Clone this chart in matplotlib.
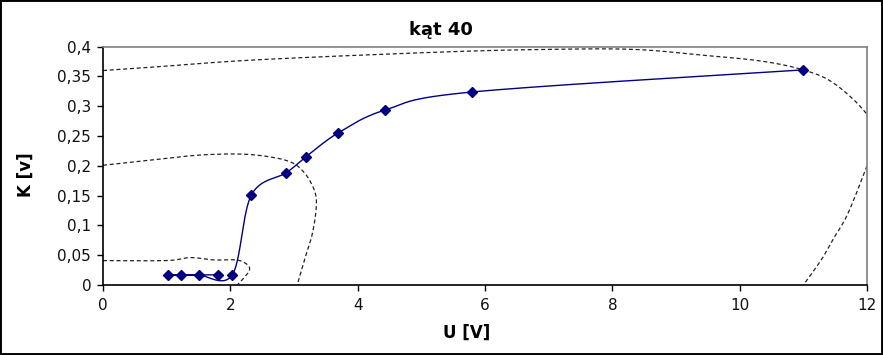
import numpy as np
import matplotlib
matplotlib.use("Agg")
import matplotlib.pyplot as plt
from matplotlib.ticker import FuncFormatter
from matplotlib.patches import Rectangle

plt.rcParams['font.family'] = ['DejaVu Sans']

# measured series (in drawing order)
u_vals = [1.81, 1.02, 1.23, 1.50, 2.03, 2.33, 2.88, 3.19, 3.69, 4.43, 5.80, 10.99]
k_vals = [0.017, 0.017, 0.017, 0.017, 0.017, 0.151, 0.1885, 0.2154, 0.255, 0.2937, 0.324, 0.361]

# dashed contour lines
c1_u = [0.0, 1.0, 1.37, 1.75, 2.10, 2.27, 2.30, 2.23, 2.11]
c1_k = [0.041, 0.041, 0.046, 0.042, 0.042, 0.034, 0.025, 0.014, 0.0]

c2_u = [0.0, 1.0, 1.63, 2.31, 2.89, 3.15, 3.32, 3.35, 3.29, 3.18, 3.05]
c2_k = [0.201, 0.2127, 0.2188, 0.219, 0.2087, 0.190, 0.159, 0.131, 0.087, 0.0476, 0.0]

c3_u = [0.0, 0.69, 2.42, 5.30, 7.00, 8.33, 9.39, 10.33, 11.0, 11.48, 11.98, 12.15, 12.0, 11.70, 11.48, 11.28, 11.0]
c3_k = [0.360, 0.365, 0.378, 0.391, 0.3955, 0.3955, 0.386, 0.376, 0.361, 0.3386, 0.289, 0.245, 0.200, 0.120, 0.079, 0.042, 0.0]

x_ticks = [0, 2, 4, 6, 8, 10, 12]
y_ticks = [0, 0.05, 0.1, 0.15, 0.2, 0.25, 0.3, 0.35, 0.4]

title = "kąt 40"
x_label = "U [V]"
y_label = "K [v]"


def smooth(xs, ys, n=30):
    """Excel-like Bezier smoothing (Catmull-Rom control points)."""
    p = np.column_stack([xs, ys]).astype(float)
    m = len(p)
    out = [p[0]]
    for i in range(m - 1):
        p0 = p[i - 1] if i > 0 else p[i]
        p1 = p[i]
        p2 = p[i + 1]
        p3 = p[i + 2] if i + 2 < m else p[i + 1]
        c1 = p1 + (p2 - p0) / 6.0
        c2 = p2 - (p3 - p1) / 6.0
        t = np.linspace(0, 1, n)[1:, None]
        b = ((1 - t) ** 3) * p1 + 3 * ((1 - t) ** 2) * t * c1 + 3 * (1 - t) * t ** 2 * c2 + t ** 3 * p2
        out.extend(b)
    out = np.array(out)
    return out[:, 0], out[:, 1]


W, H = 883, 355
fig = plt.figure(figsize=(W / 100, H / 100), dpi=100)
ax = fig.add_axes([103 / W, (H - 285) / H, 764 / W, 238.3 / H])

dash = (0, (3.2, 2.2))
for cu, ck in [(c1_u, c1_k), (c2_u, c2_k), (c3_u, c3_k)]:
    sx, sy = smooth(cu, ck)
    ax.plot(sx, sy, color='#222222', lw=0.9, linestyle=dash)

sx, sy = smooth(u_vals, k_vals)
ax.plot(sx, sy, color='#000080', lw=1.0)
ax.plot(u_vals, k_vals, linestyle='none', marker='D', markersize=5,
        color='#000080', markeredgecolor='#000080')

ax.set_xlim(0, 12)
ax.set_ylim(0, 0.4)
ax.set_xticks(x_ticks)
ax.set_yticks(y_ticks)
fmt = FuncFormatter(lambda v, pos: f"{v:g}".replace('.', ','))
ax.xaxis.set_major_formatter(fmt)
ax.yaxis.set_major_formatter(fmt)
ax.tick_params(axis='both', direction='out', length=4.5, width=1, labelsize=11,
               colors='black', labelcolor='#111111')
ax.tick_params(axis='x', pad=5)
ax.tick_params(axis='y', pad=4)

for s in ['left', 'bottom']:
    ax.spines[s].set_color('black')
    ax.spines[s].set_linewidth(1.2)
for s in ['top', 'right']:
    ax.spines[s].set_color('#808080')
    ax.spines[s].set_linewidth(1.2)

fig.text(441 / W, 1 - 30 / H, title, ha='center', va='center', fontsize=13, fontweight='bold')
fig.text(467 / W, 1 - 333 / H, x_label, ha='center', va='center', fontsize=12, fontweight='bold')
fig.text(26 / W, 1 - 175 / H, y_label, ha='center', va='center', fontsize=12, fontweight='bold', rotation=90)

fig.patches.append(Rectangle((0, 0), 1, 1, transform=fig.transFigure, fill=False,
                             lw=2.8, ec='black'))

fig.savefig("out.png", dpi=100)
